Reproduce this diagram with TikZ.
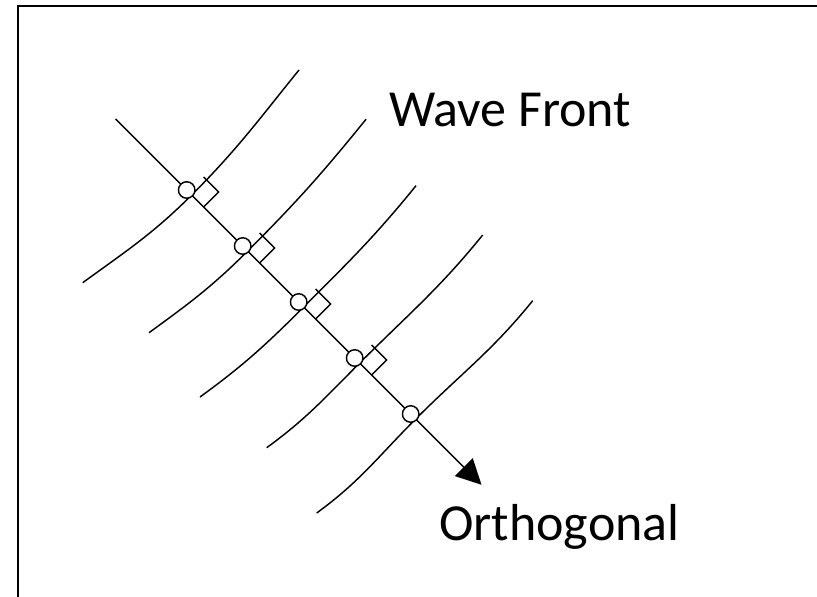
\documentclass[tikz,border=0pt]{standalone}
\usepackage{fontspec}
\setmainfont{Carlito}
\usetikzlibrary{arrows.meta,calc}
\begin{document}
\begin{tikzpicture}[x=1pt,y=1pt,
  wline/.style={line width=1.45pt},
  marker/.style={circle,draw,fill=white,line width=1.45pt,minimum size=16.5pt,inner sep=0pt},
  lbl/.style={font=\fontsize{52}{62}\selectfont,inner sep=0pt}]
\useasboundingbox (0,0) rectangle (817,597);
\clip (0,0) rectangle (817,597);
\draw[line width=1.7pt] (18,591) rectangle (840,-30);
% orthogonal points
\coordinate (S) at (115.7,478);
\coordinate (T) at (481.5,112.2);
\coordinate (M1) at (186.7,407);
\coordinate (M2) at (242.7,351);
\coordinate (M3) at (298.7,295);
\coordinate (M4) at (354.7,239);
\coordinate (M5) at (410.7,183);
% wave front ends
\coordinate (L1) at (82.7,314.3);  \coordinate (U1) at (299,527);
\coordinate (L2) at (149,264.3);   \coordinate (U2) at (366,477.7);
\coordinate (L3) at (200,200);     \coordinate (U3) at (416,411.3);
\coordinate (L4) at (266.7,149.3); \coordinate (U4) at (482.7,362);
\coordinate (L5) at (316.7,84);    \coordinate (U5) at (532.7,296.3);
\foreach \i in {1,...,5}{
  \draw[wline] (L\i) to[out=36,in=225] ($(M\i)+(5,-5)$) to[out=45,in=231] (U\i);
}
\draw[wline,-{Triangle[length=25pt,width=25pt]}] (S) -- (T);
\foreach \i in {1,...,4}{
  \draw[wline] ($(M\i)+(17,-17)$) -- ($(M\i)+(32,-2)$) -- ($(M\i)+(17,13)$);
}
\foreach \i in {1,...,5}{
  \node[marker] (C\i) at (M\i) {};
}
\node[lbl,anchor=base west] (wf) at (389,470.3) {Wave Front};
\node[lbl,anchor=base west] (og) at (439,56) {Orthogonal};
\end{tikzpicture}
\end{document}
